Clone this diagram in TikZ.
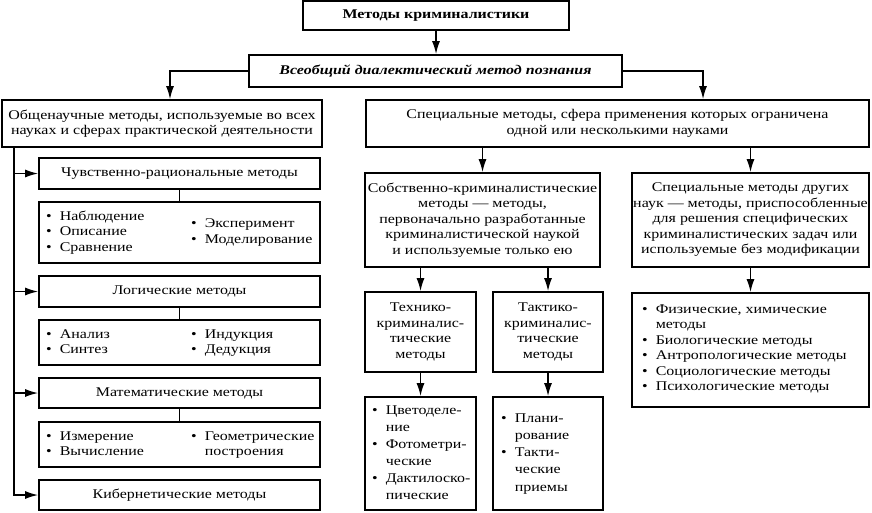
\documentclass[tikz,border=0pt]{standalone}
\usepackage{fontspec}
\setmainfont[FakeStretch=1.2]{Liberation Serif}
\usetikzlibrary{shapes, arrows, arrows.meta, positioning}
\newcommand{\boxfont}{\fontsize{13.3}{15.5}\selectfont}
\newcommand{\bul}{\textbullet}

\begin{document}
\begin{tikzpicture}[x=1pt, y=-1pt, font=\boxfont]
            \tikzstyle{box}=[draw, line width=1.7pt, rectangle, align=center, inner sep=0pt, font=\boxfont]
            \tikzstyle{lst}=[inner sep=0pt, anchor=west, align=left, font=\boxfont]
            \tikzstyle{arr}=[line width=1.5pt, -{Latex[length=13pt, width=8pt]}]
            \tikzstyle{link}=[line width=1.5pt]
            \useasboundingbox (0,0) rectangle (872,512);
            % top
            \node[box, minimum width=266pt, minimum height=29pt, font=\boxfont\bfseries] (title) at (436,15.5) {Методы криминалистики};
            \node[box, minimum width=373pt, minimum height=32pt, font=\boxfont\bfseries\itshape] (dial) at (435.5,71) {Всеобщий диалектический метод познания};
            \node[box, minimum width=320pt, minimum height=47pt] (gen) at (162,123.5) {Общенаучные методы, используемые во всех\\науках и сферах практической деятельности};
            \node[box, minimum width=503pt, minimum height=47pt] (spec) at (617.5,123.5) {Специальные методы, сфера применения которых ограничена\\одной или несколькими науками};
            % left column
            \node[box, minimum width=281pt, minimum height=31pt] (chuv) at (179.5,173.5) {Чувственно-рациональные методы};
            \node[box, minimum width=281pt, minimum height=61pt] (chuvL) at (179.5,232.5) {};
            \node[lst] (chuvA) at (46,232.5) {\begin{tabular}{@{}l@{\ \ }l@{}}\bul & Наблюдение\\ \bul & Описание\\ \bul & Сравнение\end{tabular}};
            \node[lst] (chuvB) at (191,232.5) {\begin{tabular}{@{}l@{\ \ }l@{}}\bul & Эксперимент\\ \bul & Моделирование\end{tabular}};
            \node[box, minimum width=281pt, minimum height=31pt] (log) at (179.5,291.5) {Логические методы};
            \node[box, minimum width=281pt, minimum height=45pt] (logL) at (179.5,342.5) {};
            \node[lst] (logA) at (46,343) {\begin{tabular}{@{}l@{\ \ }l@{}}\bul & Анализ\\ \bul & Синтез\end{tabular}};
            \node[lst] (logB) at (191,343) {\begin{tabular}{@{}l@{\ \ }l@{}}\bul & Индукция\\ \bul & Дедукция\end{tabular}};
            \node[box, minimum width=281pt, minimum height=30pt] (math) at (179.5,393) {Математические методы};
            \node[box, minimum width=281pt, minimum height=45pt] (mathL) at (179.5,444.5) {};
            \node[lst] (mathA) at (46,445) {\begin{tabular}{@{}l@{\ \ }l@{}}\bul & Измерение\\ \bul & Вычисление\end{tabular}};
            \node[lst] (mathB) at (191,445) {\begin{tabular}{@{}l@{\ \ }l@{}}\bul & Геометрические\\ & построения\end{tabular}};
            \node[box, minimum width=281pt, minimum height=30pt] (cyb) at (179.5,495) {Кибернетические методы};
            % middle column
            \node[box, minimum width=235pt, minimum height=94pt] (own) at (482.5,220) {Собственно-криминалистические\\методы --- методы,\\первоначально разработанные\\криминалистической наукой\\и используемые только ею};
            \node[box, minimum width=111pt, minimum height=80pt] (tech) at (420.5,332) {Технико-\\криминалис-\\тические\\методы};
            \node[box, minimum width=110pt, minimum height=80pt] (tact) at (548,332) {Тактико-\\криминалис-\\тические\\методы};
            \node[box, minimum width=111pt, minimum height=113pt] (techL) at (420.5,453.5) {};
            \node[lst] (techA) at (372,453.5) {\renewcommand{\arraystretch}{1.1}\begin{tabular}{@{}l@{\ \ }l@{}}\bul & Цветоделе-\\ & ние\\ \bul & Фотометри-\\ & ческие\\ \bul & Дактилоско-\\ & пические\end{tabular}};
            \node[box, minimum width=110pt, minimum height=113pt] (tactL) at (548,453.5) {};
            \node[lst] (tactA) at (501,453.5) {\renewcommand{\arraystretch}{1.1}\begin{tabular}{@{}l@{\ \ }l@{}}\bul & Плани-\\ & рование\\ \bul & Такти-\\ & ческие\\ & приемы\end{tabular}};
            % right column
            \node[box, minimum width=237pt, minimum height=94pt] (other) at (750.5,220) {Специальные методы других\\наук --- методы, приспособленные\\для решения специфических\\криминалистических задач или\\используемые без модификации};
            \node[box, minimum width=237pt, minimum height=114pt] (otherL) at (750.5,350) {};
            \node[lst] (otherA) at (642,349) {\begin{tabular}{@{}l@{\ \ }l@{}}\bul & Физические, химические\\ & методы\\ \bul & Биологические методы\\ \bul & Антропологические методы\\ \bul & Социологические методы\\ \bul & Психологические методы\end{tabular}};
            % connectors
            \coordinate (spine) at (14,493);
            \draw[arr] (title.south) -- (title.south |- dial.north);
            \draw[arr] (dial.west) -| ([xshift=8pt]gen.north);
            \draw[arr] (dial.east) -| ([xshift=85.5pt]spec.north);
            \draw[arr] (spec.south -| own.north) -- (own.north);
            \draw[arr] (spec.south -| other.north) -- (other.north);
            \draw[arr] (own.south -| tech.north) -- (tech.north);
            \draw[arr] (own.south -| tact.north) -- (tact.north);
            \draw[arr] (tech.south) -- (techL.north);
            \draw[arr] (tact.south) -- (tactL.north);
            \draw[arr] (other.south) -- (otherL.north);
            \draw[arr] (gen.south -| spine) |- (cyb.west);
            \foreach \n in {chuv, log, math}
                \draw[arr] (\n.west -| spine) -- (\n.west);
            \foreach \n in {chuv, log, math}
                \draw[link] (\n.south) -- (\n L.north);
\end{tikzpicture}
\end{document}
